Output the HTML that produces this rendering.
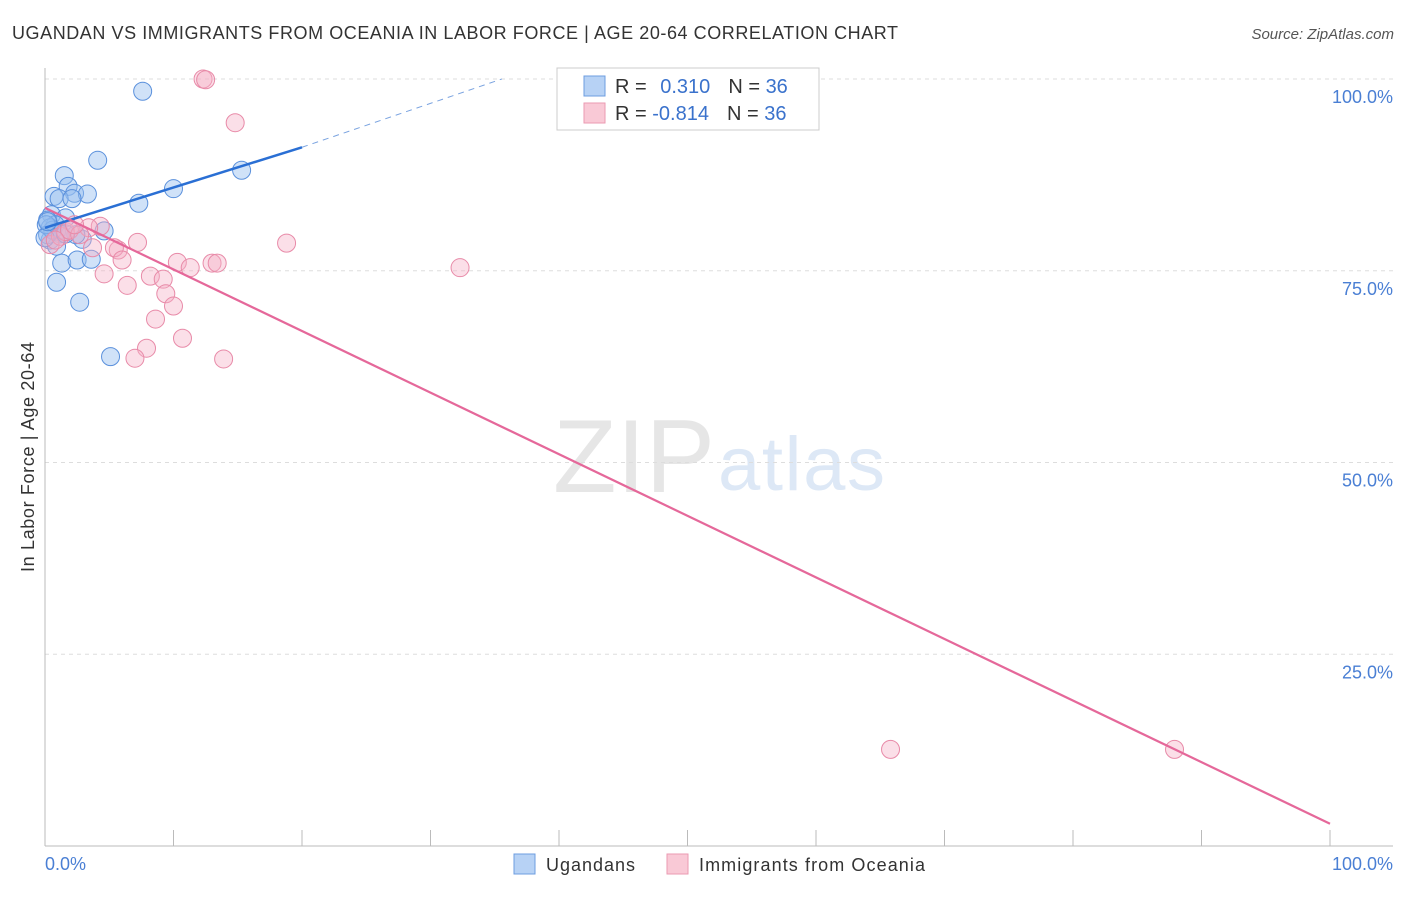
<!DOCTYPE html>
<html><head><meta charset="utf-8"><style>
body{margin:0;background:#fff;font-family:"Liberation Sans",sans-serif}
svg text{font-family:"Liberation Sans",sans-serif}
</style></head><body>
<svg id="c" width="1406" height="892">
<text x="12" y="39" font-size="18" fill="#333" textLength="886">UGANDAN VS IMMIGRANTS FROM OCEANIA IN LABOR FORCE | AGE 20-64 CORRELATION CHART</text>
<text x="1394" y="39" font-size="15" fill="#555" font-style="italic" text-anchor="end">Source: ZipAtlas.com</text>
<text x="553" y="492" font-size="104" fill="#e6e6e6" textLength="162" font-family="Liberation Serif">ZIP</text>
<text x="718" y="490" font-size="76" fill="#dde8f6" textLength="167">atlas</text>
<g id="grid"></g><g id="axes"></g><g id="pts"></g><g id="trend"></g>
<text transform="translate(34,457) rotate(-90)" font-size="18" fill="#333" text-anchor="middle" textLength="230">In Labor Force | Age 20-64</text>
<text x="45" y="870" font-size="18" fill="#4a7fd4">0.0%</text>
<text x="1393" y="870" font-size="18" fill="#4a7fd4" text-anchor="end">100.0%</text>
<g>
<rect x="557" y="68" width="262" height="62" fill="#fff" stroke="#ccc"/>
<rect x="584" y="76" width="21" height="20" fill="#b7d2f5" stroke="#6c9de0"/>
<rect x="584" y="103" width="21" height="20" fill="#f9c9d6" stroke="#eb9ab2"/>
<text x="615" y="93" font-size="20" fill="#333">R = <tspan fill="#3a72cc" dx="8">0.310</tspan><tspan fill="#333" dx="18">N = </tspan><tspan fill="#3a72cc">36</tspan></text>
<text x="615" y="120" font-size="20" fill="#333">R = <tspan fill="#3a72cc">-0.814</tspan><tspan fill="#333" dx="18">N = </tspan><tspan fill="#3a72cc">36</tspan></text>
</g>
<g><rect x="514" y="854" width="21" height="20" fill="#b7d2f5" stroke="#6c9de0"/><text x="546" y="871" font-size="18" fill="#333" textLength="89">Ugandans</text></g>
<g><rect x="667" y="854" width="21" height="20" fill="#f9c9d6" stroke="#eb9ab2"/><text x="699" y="871" font-size="18" fill="#333" textLength="226">Immigrants from Oceania</text></g>
</svg>
<script>
const blueX=[7.6,4.1,1.5,15.3,10.0,1.8,2.3,3.3,0.7,1.1,2.1,7.3,0.5,1.6,0.2,0.8,0.4,0.9,1.2,4.6,2.9,2.4,0.4,0.9,1.3,2.5,3.6,0.9,2.7,5.1,0.2,0.6,0.1,1.6,0,0.2];
const blueY=[98.4,89.4,87.4,88.1,85.7,86.0,85.1,85.0,84.7,84.4,84.4,83.8,82.3,81.9,81.6,81.0,80.6,80.1,79.8,80.2,79.1,79.7,79.0,78.2,76.0,76.4,76.5,73.5,70.9,63.8,79.7,80.3,81.0,79.8,79.3,81.4];
const pinkX=[12.3,12.5,14.8,18.8,32.3,7.2,4.3,3.4,5.7,5.4,6.0,4.6,6.4,8.2,9.2,9.4,10.0,8.6,10.3,11.3,13.0,13.4,10.7,7.9,7.0,13.9,65.8,87.9,0.4,1.2,1.6,1.9,2.7,3.7,2.3,0.8];
const pinkY=[100,99.9,94.3,78.6,75.4,78.7,80.8,80.6,77.7,78.0,76.4,74.6,73.1,74.3,73.9,72.0,70.4,68.7,76.1,75.4,76.0,76.0,66.2,64.9,63.6,63.5,12.6,12.6,78.4,79.5,80.1,80.3,79.7,78.0,81.0,79.0];
const yTicks=[25,50,75,100];
const yTickLabels=["25.0%","50.0%","75.0%","100.0%"];
const blueTrend=[80.6,0.525]; // intercept, slope
const pinkTrend=[83.2,-0.803];
const NS="http://www.w3.org/2000/svg";
const X=v=>45+v*12.85, Y=v=>79+(100-v)*7.67;
function mk(p,t,a){const e=document.createElementNS(NS,t);for(const k in a)e.setAttribute(k,a[k]);p.appendChild(e);return e;}
const grid=document.getElementById('grid'),axes=document.getElementById('axes'),pts=document.getElementById('pts'),tr=document.getElementById('trend');
yTicks.forEach((t,i)=>{
 const l=mk(grid,'line',{x1:45,x2:1393,y1:Y(t),y2:Y(t),stroke:'#ddd','stroke-dasharray':'4,4'});
 
 
 const tx=mk(grid,'text',{x:1393,y:Y(t)+24,'font-size':18,fill:'#4a7fd4','text-anchor':'end'});
 tx.textContent=yTickLabels[i];
 
 
});
mk(axes,'line',{x1:45,x2:45,y1:68,y2:846,stroke:'#bbb'});
mk(axes,'line',{x1:45,x2:1393,y1:846,y2:846,stroke:'#bbb'});
for(let i=0;i<=10;i++){const t=mk(axes,'line',{x1:X(i*10),x2:X(i*10),y1:830,y2:846,stroke:'#bbb'});
 
 }
blueX.forEach((x,i)=>{const c=mk(pts,'circle',{cx:X(x),cy:Y(blueY[i]),r:9,fill:'rgba(150,190,240,0.45)',stroke:'#5a90dc','stroke-width':1});
 
 });
pinkX.forEach((x,i)=>{const c=mk(pts,'circle',{cx:X(x),cy:Y(pinkY[i]),r:9,fill:'rgba(245,175,198,0.4)',stroke:'#e88aa8','stroke-width':1});
 
 });
const bt=mk(tr,'line',{x1:X(0),y1:Y(blueTrend[0]),x2:X(20),y2:Y(blueTrend[0]+20*blueTrend[1]),stroke:'#2a6fd4','stroke-width':2.5});


const xe=(100-blueTrend[0])/blueTrend[1];
const bd=mk(tr,'line',{x1:X(20),y1:Y(blueTrend[0]+20*blueTrend[1]),x2:X(xe)-18,y2:Y(100),stroke:'#7aa3e0','stroke-width':1,'stroke-dasharray':'6,5'});


const pt=mk(tr,'line',{x1:X(0),y1:Y(pinkTrend[0]),x2:X(100),y2:Y(pinkTrend[0]+100*pinkTrend[1]),stroke:'#e5689a','stroke-width':2.2});


</script>
</body></html>
